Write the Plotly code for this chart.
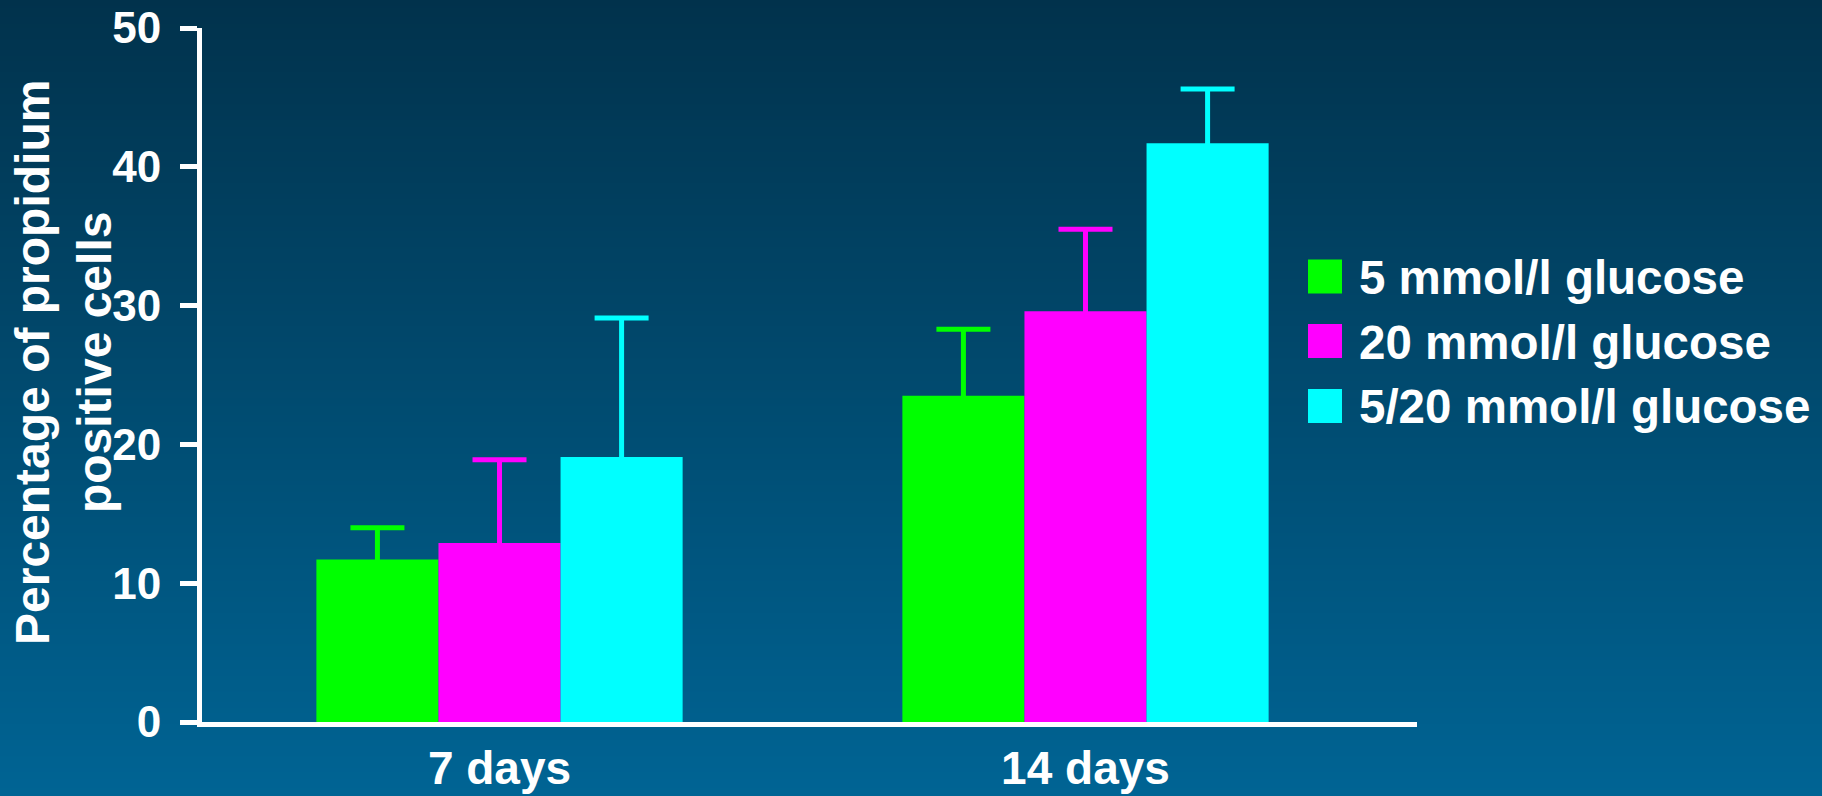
import base64
import struct
import zlib

import plotly.graph_objects as go

# ---- data ---------------------------------------------------------------
categories = ["7 days", "14 days"]
series_names = ["5 mmol/l glucose", "20 mmol/l glucose", "5/20 mmol/l glucose"]
series_colors = ["#00FF00", "#FF00FF", "#00FFFF"]
means = [
    [11.7, 23.5],   # 5 mmol/l
    [12.9, 29.6],   # 20 mmol/l
    [19.1, 41.7],   # 5/20 mmol/l
]
sem = [
    [2.3, 4.8],
    [6.0, 5.9],
    [10.0, 3.9],
]
y_ticks = [0, 10, 20, 30, 40, 50]
y_title = "Percentage of propidium<br>positive cells"

# ---- page geometry ------------------------------------------------------
W, H = 1822, 796
L, R, T, B = 202, 405, 28, 74
PW, PH = W - L - R, H - T - B

FONT = "Liberation Sans, Arial, sans-serif"
# the lower end of each error bar is tucked inside its own bar
SHOE_DEPTH = 0.6


def px_x(x):
    return (x - L) / PW


def px_y(y):
    return (H - B - y) / PH


def gradient_png(top, bottom, height):
    """1-pixel-wide vertical gradient PNG as a data URI."""
    rows = b""
    for i in range(height):
        t = i / (height - 1)
        c = bytes(int(round(a + (b - a) * t)) for a, b in zip(top, bottom))
        rows += b"\x00" + c

    def chunk(tag, data):
        return (struct.pack(">I", len(data)) + tag + data
                + struct.pack(">I", zlib.crc32(tag + data) & 0xFFFFFFFF))

    png = (b"\x89PNG\r\n\x1a\n"
           + chunk(b"IHDR", struct.pack(">IIBBBBB", 1, height, 8, 2, 0, 0, 0))
           + chunk(b"IDAT", zlib.compress(rows, 9))
           + chunk(b"IEND", b""))
    return "data:image/png;base64," + base64.b64encode(png).decode()


fig = go.Figure()
for name, color, vals, errs in zip(series_names, series_colors, means, sem):
    fig.add_trace(go.Bar(
        x=categories, y=vals, name=name,
        marker=dict(color=color, line=dict(width=0)),
        error_y=dict(type="data", array=errs, arrayminus=[SHOE_DEPTH] * len(errs),
                     symmetric=False, color=color, thickness=5, width=27),
        showlegend=False,
    ))

# legend drawn as large colour swatches with labels
shapes = []
annotations = []
row_centers = [276.5, 341, 406]
for name, color, yc in zip(series_names, series_colors, row_centers):
    shapes.append(dict(type="rect", xref="paper", yref="paper",
                       x0=px_x(1308), x1=px_x(1342),
                       y0=px_y(yc + 17), y1=px_y(yc - 17),
                       fillcolor=color, line=dict(width=0)))
    annotations.append(dict(xref="paper", yref="paper", x=px_x(1357), y=px_y(yc + 1),
                            xanchor="left", yanchor="middle", showarrow=False,
                            text=f"<b>{name}</b>",
                            font=dict(family=FONT, size=47.5, color="white")))

annotations.append(dict(xref="paper", yref="paper", x=px_x(63), y=px_y(363),
                        xanchor="center", yanchor="middle", showarrow=False,
                        textangle=-90, text=f"<b>{y_title}</b>",
                        font=dict(family=FONT, size=48, color="white")))

fig.update_layout(
    width=W, height=H,
    margin=dict(l=L, r=R, t=T, b=B, pad=0),
    paper_bgcolor="rgba(0,0,0,0)",
    plot_bgcolor="rgba(0,0,0,0)",
    barmode="group", bargap=0.375, bargroupgap=0,
    shapes=shapes,
    annotations=annotations,
    images=[dict(source=gradient_png((1, 50, 76), (0, 100, 148), H),
                 xref="paper", yref="paper",
                 x=-L / PW, y=1 + T / PH, sizex=W / PW, sizey=H / PH,
                 xanchor="left", yanchor="top", sizing="stretch", layer="below")],
    xaxis=dict(type="category", range=[-0.5077, 1.5657], automargin=False,
               showline=True, linewidth=5, linecolor="white",
               ticks="", showgrid=False, zeroline=False,
               tickfont=dict(family=FONT, size=46, color="white", weight="bold"),
               ticklabelstandoff=2),
    yaxis=dict(range=[0, 50], tickvals=y_ticks, automargin=False,
               showline=True, linewidth=5, linecolor="white",
               ticks="outside", ticklen=17, tickwidth=5, tickcolor="white",
               showgrid=False, zeroline=False,
               tickfont=dict(family=FONT, size=44, color="white", weight="bold"),
               ticklabelstandoff=10),
    showlegend=False,
)

fig.write_html("out.html")
